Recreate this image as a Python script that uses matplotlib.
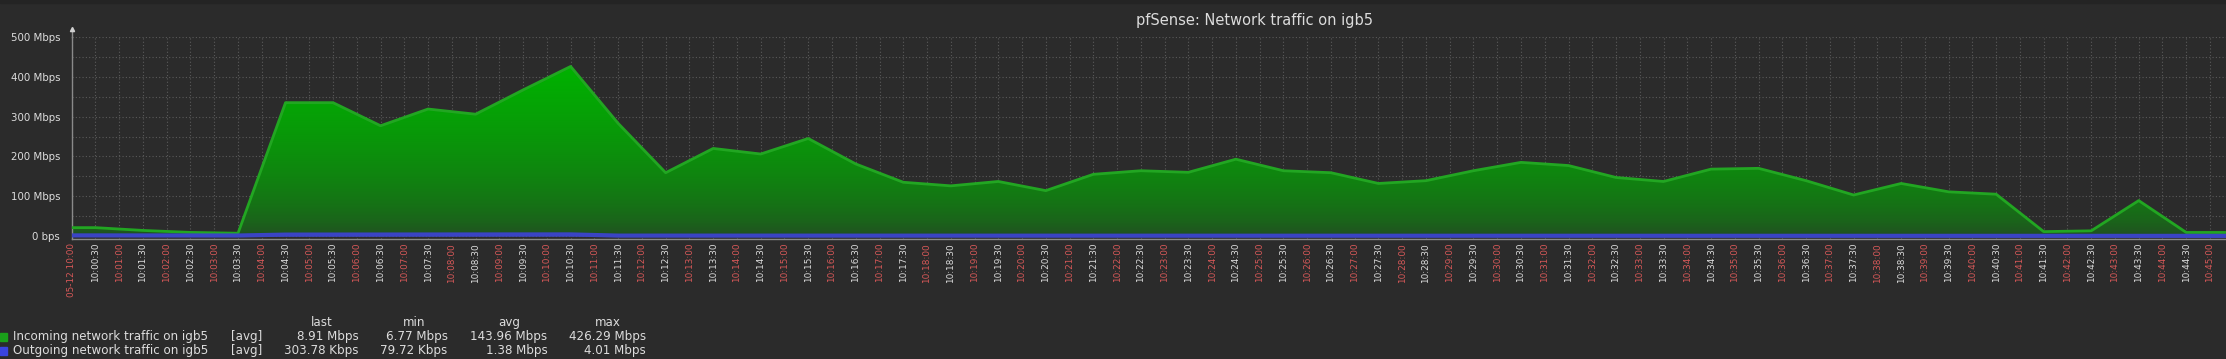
import numpy as np
import matplotlib
matplotlib.use("Agg")
from matplotlib import pyplot as plt
from matplotlib.patches import Rectangle, Polygon

# minutes after 10:00 and Mbps
in_minutes = [0, 0.5, 1.5, 2.5, 3.5, 4.5, 5.5, 6.5, 7.5, 8.5, 9.5, 10.5, 11.5, 12.5,
              13.5, 14.5, 15.5, 16.5, 17.5, 18.5, 19.5, 20.5, 21.5, 22.5, 23.5, 24.5,
              25.5, 26.5, 27.5, 28.5, 29.5, 30.5, 31.5, 32.5, 33.5, 34.5, 35.5, 36.5,
              37.5, 38.5, 39.5, 40.5, 41.5, 42.5, 43.5, 44.5, 45.4]
in_mbps = [21, 21, 14, 9, 7, 335, 335, 277, 319, 306, 367, 426, 283, 159,
           220, 206, 245, 181, 135, 126, 137, 114, 155, 164, 160, 193,
           164, 159, 132, 139, 164, 185, 177, 147, 137, 168, 170, 139,
           103, 132, 111, 105, 11, 13, 89, 8.9, 8.9]
out_minutes = [0, 3.5, 4.5, 10.5, 11.5, 45.4]
out_mbps = [1.5, 1.2, 3.5, 4.0, 1.0, 0.3]

y_ticks = [0, 100, 200, 300, 400, 500]
y_labels = ["0 bps", "100 Mbps", "200 Mbps", "300 Mbps", "400 Mbps", "500 Mbps"]

x_ticks = [i * 0.5 for i in range(91)]
x_labels = []
for t in x_ticks:
    m = int(t)
    x_labels.append("10:%02d:%s" % (m, "30" if t - m else "00"))
x_labels[0] = "05-12 10:00"

legend_names = ["Incoming network traffic on igb5", "Outgoing network traffic on igb5"]
legend_last = ["8.91 Mbps", "303.78 Kbps"]
legend_min = ["6.77 Mbps", "79.72 Kbps"]
legend_avg = ["143.96 Mbps", "1.38 Mbps"]
legend_max = ["426.29 Mbps", "4.01 Mbps"]

W, H = 2226, 359
BG = "#2b2b2b"
TXT = "#dcdcdc"
RED = "#d65858"
GREEN_LINE = "#22a622"
BLUE = "#3a44c4"
GRID = "#5a5a5a"

def fx(px):
    return px / W

def fy(py):
    return 1 - py / H

fig = plt.figure(figsize=(W / 100, H / 100), dpi=100, facecolor=BG)
fig.patches.append(Rectangle((0, fy(3)), 1, 3 / H, transform=fig.transFigure,
                             color="#242424", zorder=0))

left, right, top, bottom = 71.7, 2226, 37, 238.5
ax = fig.add_axes([fx(left), fy(bottom), fx(right - left), (bottom - top) / H])
ax.set_facecolor(BG)
px_per_min = (2210 - left) / 45
ax.set_xlim(0, (right - left) / px_per_min)
ax.set_ylim(-2.5 / 0.398, 500)

# grid
ax.set_xticks(x_ticks)
ax.set_yticks(y_ticks)
ax.set_yticks(np.arange(50, 500, 100), minor=True)
ax.grid(True, which="both", color=GRID, linestyle=(0, (1, 2)), linewidth=0.8)
ax.set_axisbelow(True)

# incoming: gradient fill clipped to the area
xs = np.array(in_minutes)
ys = np.array(in_mbps)
vmax = ys.max()
grad_v = np.linspace(0, vmax, 256)
f = (grad_v / vmax) ** 0.55
bottom_c = np.array([36, 72, 36]) / 255
top_c = np.array([0, 178, 0]) / 255
grad = bottom_c[None, :] * (1 - f[:, None]) + top_c[None, :] * f[:, None]
img = ax.imshow(grad[:, None, :], extent=[xs[0], xs[-1], 0, vmax], origin="lower",
                aspect="auto", zorder=2, interpolation="bilinear")
poly = Polygon(np.column_stack([np.r_[xs, xs[-1], xs[0]], np.r_[ys, 0, 0]]),
               closed=True, facecolor="none", edgecolor="none")
ax.add_patch(poly)
img.set_clip_path(poly)
ax.plot(xs, ys, color=GREEN_LINE, lw=2, zorder=3, solid_joinstyle="round")

# outgoing
ax.fill_between(out_minutes, 0, out_mbps, color=BLUE, zorder=4, lw=0)
ax.plot(out_minutes, out_mbps, color=BLUE, lw=3, zorder=4)

# axes look
for s in ["top", "right"]:
    ax.spines[s].set_visible(False)
ax.spines["left"].set_color("#8a8a8a")
ax.spines["bottom"].set_color("#8a8a8a")
ax.spines["left"].set_linewidth(1)
ax.spines["bottom"].set_linewidth(1)
ax.plot([0, 0], [500, 517], color="#8a8a8a", lw=1, clip_on=False, zorder=5)
ax.plot([0], [519], marker="^", color="#d0d0d0", markersize=3, clip_on=False, zorder=5)

ax.set_yticklabels(y_labels, fontsize=7.4, color=TXT)
ax.tick_params(axis="y", which="both", length=0, pad=8.4)
ax.set_xticklabels(x_labels, rotation=90, fontsize=6.4, va="top", ha="center")
ax.tick_params(axis="x", length=0, pad=3.2)
for i, lab in enumerate(ax.get_xticklabels()):
    lab.set_color(RED if i % 2 == 0 else TXT)

fig.text(fx(1254), fy(20), "pfSense: Network traffic on igb5", ha="center", va="center",
         fontsize=10.5, color=TXT)

# legend table
for name, cx in zip(["last", "min", "avg", "max"], [321.7, 414.3, 509, 607.7]):
    fig.text(fx(cx), fy(322.7), name, ha="center", va="center", fontsize=8.6, color=TXT)
row_y = [336.7, 350.7]
colors = ["#1aa01a", "#3a44e0"]
for i in range(2):
    fig.patches.append(Rectangle((fx(0), fy(row_y[i] + 4)), fx(7), 8 / H,
                                 transform=fig.transFigure, color=colors[i]))
    fig.text(fx(12.7), fy(row_y[i]), legend_names[i], ha="left", va="center",
             fontsize=8.6, color=TXT)
    fig.text(fx(231), fy(row_y[i]), "[avg]", ha="left", va="center", fontsize=8.6, color=TXT)
    for vals, rx in zip([legend_last, legend_min, legend_avg, legend_max],
                        [359, 447.7, 547.3, 646]):
        fig.text(fx(rx), fy(row_y[i]), vals[i], ha="right", va="center",
                 fontsize=8.6, color=TXT)

fig.savefig("out.png", dpi=100, facecolor=BG)
